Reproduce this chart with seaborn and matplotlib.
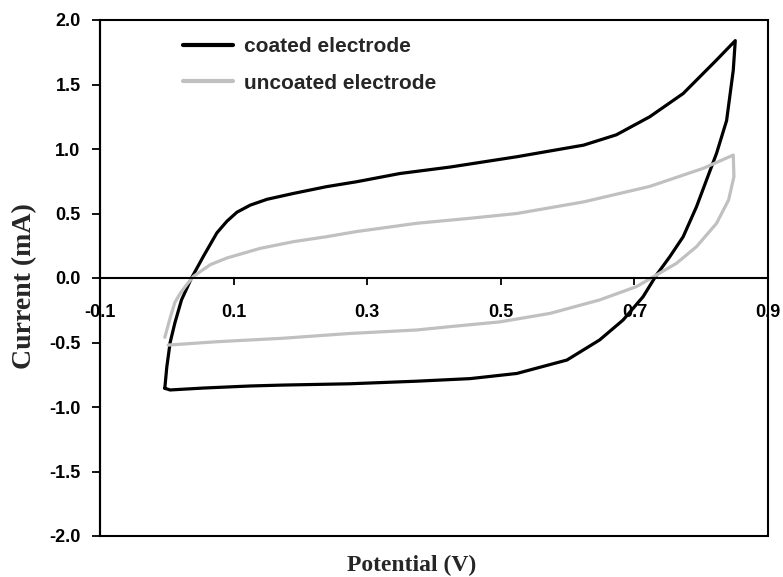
import matplotlib
matplotlib.use("Agg")
import matplotlib.pyplot as plt
from matplotlib.patches import Rectangle
from matplotlib.ticker import FormatStrFormatter, FixedLocator
import seaborn as sns
import pandas as pd

# Cyclic voltammograms: forward sweep 0 -> 0.85 V, then reverse sweep back to 0 V
coated_potential = [
    -0.003, 0.000, 0.005, 0.012, 0.022, 0.037, 0.055, 0.065, 0.075, 0.090,
    0.105, 0.125, 0.150, 0.190, 0.239, 0.284, 0.349, 0.424, 0.524, 0.624,
    0.673, 0.723, 0.773, 0.823, 0.851,
    0.848, 0.838, 0.823, 0.808, 0.793, 0.773, 0.753, 0.733, 0.713, 0.683,
    0.648, 0.599, 0.524, 0.454, 0.374, 0.274, 0.174, 0.125, 0.055, 0.005,
    -0.003,
]
coated_current = [
    -0.855, -0.69, -0.50, -0.35, -0.17, 0.00, 0.17, 0.26, 0.35, 0.44,
    0.51, 0.565, 0.61, 0.656, 0.708, 0.746, 0.81, 0.86, 0.94, 1.03,
    1.11, 1.25, 1.43, 1.69, 1.84,
    1.61, 1.22, 0.967, 0.76, 0.553, 0.32, 0.165, 0.023, -0.145, -0.326,
    -0.48, -0.636, -0.74, -0.78, -0.80, -0.82, -0.83, -0.837, -0.853, -0.868,
    -0.855,
]

uncoated_potential = [
    -0.003, 0.005, 0.012, 0.020, 0.030, 0.040, 0.065, 0.090, 0.140, 0.190,
    0.239, 0.284, 0.374, 0.454, 0.524, 0.624, 0.723, 0.803, 0.848,
    0.849, 0.841, 0.823, 0.793, 0.763, 0.733, 0.703, 0.648, 0.574, 0.499,
    0.424, 0.374, 0.274, 0.174, 0.075, 0.002,
]
uncoated_current = [
    -0.46, -0.31, -0.19, -0.12, -0.05, 0.013, 0.103, 0.155, 0.23, 0.282,
    0.32, 0.36, 0.424, 0.463, 0.50, 0.59, 0.71, 0.85, 0.953,
    0.785, 0.605, 0.424, 0.243, 0.114, 0.023, -0.067, -0.17, -0.274, -0.34,
    -0.377, -0.403, -0.43, -0.467, -0.494, -0.52,
]

series_labels = ["coated electrode", "uncoated electrode"]
x_ticks = [-0.1, 0.1, 0.3, 0.5, 0.7, 0.9]
y_ticks = [-2.0, -1.5, -1.0, -0.5, 0.0, 0.5, 1.0, 1.5, 2.0]

coated = pd.DataFrame({"potential": coated_potential, "current": coated_current})
uncoated = pd.DataFrame({"potential": uncoated_potential, "current": uncoated_current})

sns.set_style("ticks")
plt.rcParams["font.family"] = ["Liberation Sans", "DejaVu Sans"]

fig = plt.figure(figsize=(7.83, 5.77), dpi=100)
ax = fig.add_axes([100 / 783, 41 / 577, 668 / 783, 516 / 577])

sns.lineplot(data=coated, x="potential", y="current", sort=False, estimator=None,
             color="black", linewidth=2.3, label=series_labels[0], ax=ax)
sns.lineplot(data=uncoated, x="potential", y="current", sort=False, estimator=None,
             color="#c0c0c0", linewidth=2.3, label=series_labels[1], ax=ax)

ax.set_xlim(-0.1, 0.9)
ax.set_ylim(-2.0, 2.0)

# x-axis runs through zero current; the plot area keeps a full frame
ax.spines["bottom"].set_position(("data", 0))
for side in ("top", "right"):
    ax.spines[side].set_visible(False)
for side in ("bottom", "left"):
    ax.spines[side].set_linewidth(1.5)
    ax.spines[side].set_color("black")
ax.add_patch(Rectangle((0, 0), 1, 1, transform=ax.transAxes, fill=False,
                       edgecolor="black", linewidth=1.5, clip_on=False, zorder=3))

ax.xaxis.set_major_locator(FixedLocator(x_ticks))
ax.yaxis.set_major_locator(FixedLocator(y_ticks))
ax.xaxis.set_major_formatter(FormatStrFormatter("%.1f"))
ax.yaxis.set_major_formatter(FormatStrFormatter("%.1f"))
ax.tick_params(axis="x", direction="out", length=5, width=1.3, pad=14,
               labelsize=13, colors="black")
ax.tick_params(axis="y", direction="out", length=6, width=1.3, pad=8,
               labelsize=13, colors="black")
for lbl in ax.get_xticklabels() + ax.get_yticklabels():
    lbl.set_fontweight("bold")

ax.set_xlabel("Potential (V)", family=["Liberation Serif", "DejaVu Serif"],
              fontweight="bold", fontsize=17)
ax.set_ylabel("Current (mA)", family=["Liberation Serif", "DejaVu Serif"],
              fontweight="bold", fontsize=20)
ax.xaxis.set_label_coords(0.467, -0.036)
ax.yaxis.set_label_coords(-0.094, 0.484)

leg = ax.legend(loc="upper left", bbox_to_anchor=(83 / 668, 1 - 17 / 516),
                frameon=False, borderpad=0, borderaxespad=0,
                handlelength=2.4, handletextpad=0.55, labelspacing=0.85,
                prop={"family": ["Liberation Sans", "DejaVu Sans"],
                      "weight": "bold", "size": 15})
for h in leg.get_lines():
    h.set_linewidth(3)

fig.savefig("out.png", dpi=100)
